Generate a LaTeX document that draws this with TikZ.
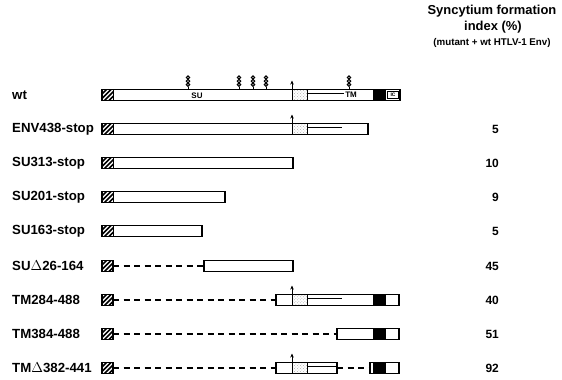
\documentclass[tikz,border=0pt]{standalone}
\usepackage{fontspec}
\setmainfont{Liberation Sans}
\usetikzlibrary{patterns,arrows.meta}
\begin{document}
\begin{tikzpicture}[x=1bp,y=-1bp,
  lab/.style={anchor=west,font=\fontsize{13.3}{15}\selectfont\bfseries,inner sep=0pt},
  num/.style={anchor=east,font=\fontsize{12}{14}\selectfont\bfseries,inner sep=0pt},
  hdr/.style={font=\fontsize{13}{15}\selectfont\bfseries,inner sep=0pt},
  hdrsmall/.style={font=\fontsize{9.8}{11}\selectfont\bfseries,inner sep=0pt},
  inlab/.style={font=\fontsize{8}{9}\selectfont\bfseries,inner sep=0pt},
  seg/.style={draw=black,line width=1.2bp,fill=white},
  outl/.style={line width=1.2bp},
  blk/.style={fill=black},
  stip/.style={pattern=crosshatch dots,pattern color=gray!60},
  tmline/.style={line width=1.6bp},
  gap/.style={line width=1.2bp,dash pattern=on 6bp off 4.5bp},
  cleave/.style={line width=1bp,-{Stealth[length=4bp,width=3.5bp]}},
  hsqw/.initial=0.9bp,
  hsq/.pic={
    \begin{scope}
      \clip (0,-5.5) rectangle (11,5.5);
      \foreach \d in {-11,-6.5,...,11} \draw[line width=1.5bp] (\d,5.5) -- ++(11,-11);
    \end{scope}
    \draw[line width=\pgfkeysvalueof{/tikz/hsqw}] (0,-5.5) rectangle (11,5.5);
  },
  glyco/.pic={
    \draw[line width=1bp] (0,-5.5) -- (0,-8.5);
    \foreach \c in {-10.3,-13.9,-17.5} \draw[line width=1.1bp] (0,\c) circle (1.7bp);
  }
]
\useasboundingbox (0,0) rectangle (562,379);

% header
\node[hdr] (h1) at (492,11) {Syncytium formation};
\node[hdr] (h2) at (493,27) {index (\%)};
\node[hdrsmall] (h3) at (492,43) {(mutant + wt HTLV-1 Env)};

% labels
\node[lab] (lwt) at (12,95) {wt};
\node[lab] (l1) at (12,129) {ENV438-stop};
\node[lab] (l2) at (12,163) {SU313-stop};
\node[lab] (l3) at (12,197) {SU201-stop};
\node[lab] (l4) at (12,231) {SU163-stop};
\node[lab] (l5) at (12,266) {SU$\Delta$26-164};
\node[lab] (l6) at (12,300) {TM284-488};
\node[lab] (l7) at (12,334) {TM384-488};
\node[lab] (l8) at (12,368) {TM$\Delta$382-441};

% numbers
\node[num] (n1) at (499,129) {5};
\node[num] (n2) at (499,163) {10};
\node[num] (n3) at (499,197) {9};
\node[num] (n4) at (499,231) {5};
\node[num] (n5) at (499,266) {45};
\node[num] (n6) at (499,300) {40};
\node[num] (n7) at (499,334) {51};
\node[num] (n8) at (499,368) {92};

% ---- wt
\draw[seg] (102,89.5) rectangle (400,100.5);
\fill[stip] (292,89.5) rectangle (307,100.5);
\draw[line width=1bp] (292,89.5) -- (292,100.5) (307,89.5) -- (307,100.5);
\draw[tmline] (307,93.5) -- (344,93.5);
\node[inlab] (tmwt) at (351,95) {TM};
\node[inlab] (suwt) at (197,96) {SU};
\fill[blk] (373,89.5) rectangle (386,100.5);
\draw[line width=0.7bp] (387.5,91.5) rectangle (398.5,98.5);
\node[font=\fontsize{5}{6}\selectfont\bfseries,inner sep=0pt] (icwt) at (393,95) {IC};
\draw[outl] (102,89.5) rectangle (400,100.5);
\pic at (102,95) {hsq};
\draw[cleave] (292,89.5) -- (292,80.5);
\foreach \g in {188,239,253,266,349} \pic at (\g,95) {glyco};

% ---- ENV438-stop
\draw[seg] (102,123.5) rectangle (368,134.5);
\fill[stip] (292,123.5) rectangle (307,134.5);
\draw[line width=1bp] (292,123.5) -- (292,134.5) (307,123.5) -- (307,134.5);
\draw[tmline] (307,127.5) -- (342,127.5);
\draw[outl] (102,123.5) rectangle (368,134.5);
\pic at (102,129) {hsq};
\draw[cleave] (292,123.5) -- (292,114.5);

% ---- SU313-stop
\draw[seg] (102,157.5) rectangle (293,168.5);
\pic at (102,163) {hsq};

% ---- SU201-stop
\draw[seg] (102,191.5) rectangle (225,202.5);
\pic at (102,197) {hsq};

% ---- SU163-stop
\draw[seg] (102,225.5) rectangle (202,236.5);
\pic at (102,231) {hsq};

% ---- SUdelta26-164
\pic[hsqw=1.9bp] at (102,266) {hsq};
\coordinate (d5a) at (113,266);
\coordinate (d5b) at (204,266);
\draw[gap] (d5a) -- (d5b);
\draw[seg] (204,260.5) rectangle (293,271.5);

% ---- TM284-488
\pic[hsqw=1.9bp] at (102,300) {hsq};
\coordinate (d6a) at (113,300);
\coordinate (d6b) at (276,300);
\draw[gap] (d6a) -- (d6b);
\draw[seg] (276,294.5) rectangle (399,305.5);
\fill[stip] (292,294.5) rectangle (307,305.5);
\draw[line width=1bp] (292,294.5) -- (292,305.5) (307,294.5) -- (307,305.5);
\draw[tmline] (307,298.5) -- (342,298.5);
\fill[blk] (373,294.5) rectangle (386,305.5);
\draw[outl] (276,294.5) rectangle (399,305.5);
\draw[cleave] (292,294.5) -- (292,285.5);

% ---- TM384-488
\pic[hsqw=1.9bp] at (102,334) {hsq};
\coordinate (d7a) at (113,334);
\coordinate (d7b) at (337,334);
\draw[gap] (d7a) -- (d7b);
\draw[seg] (337,328.5) rectangle (399,339.5);
\fill[blk] (373,328.5) rectangle (386,339.5);
\draw[outl] (337,328.5) rectangle (399,339.5);

% ---- TMdelta382-441
\pic[hsqw=1.9bp] at (102,368) {hsq};
\coordinate (d8a) at (113,368);
\coordinate (d8b) at (276,368);
\draw[gap] (d8a) -- (d8b);
\draw[seg] (276,362.5) rectangle (337,373.5);
\fill[stip] (292,362.5) rectangle (307,373.5);
\draw[line width=1bp] (292,362.5) -- (292,373.5) (307,362.5) -- (307,373.5);
\draw[tmline] (307,366.5) -- (337,366.5);
\draw[outl] (276,362.5) rectangle (337,373.5);
\draw[cleave] (292,362.5) -- (292,353.5);
\coordinate (d8c) at (337,368);
\coordinate (d8d) at (370,368);
\draw[gap] (d8c) -- (d8d);
\draw[seg] (370,362.5) rectangle (399,373.5);
\fill[blk] (373,362.5) rectangle (386,373.5);
\draw[outl] (370,362.5) rectangle (399,373.5);
\end{tikzpicture}
\end{document}
